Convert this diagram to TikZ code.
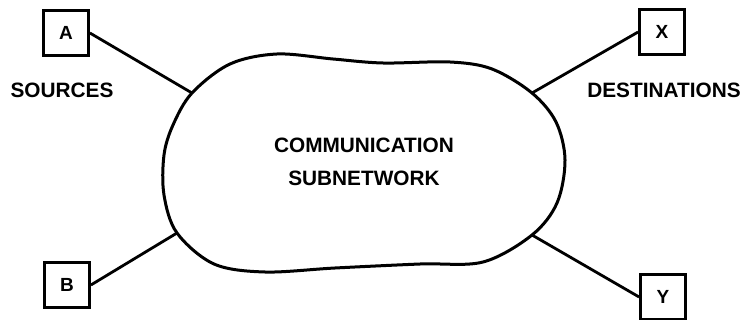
\documentclass[tikz,border=0pt]{standalone}
\usepackage{fontspec}
\setmainfont{Liberation Sans}
\begin{document}
\begin{tikzpicture}[x=1pt,y=-1pt,
  lbl/.style={font=\fontsize{20.8}{24}\selectfont\bfseries, inner sep=0pt},
  term/.style={draw, line width=2.8pt, minimum width=45pt, minimum height=45pt, inner sep=0pt, font=\fontsize{19}{22}\selectfont\bfseries},
  link/.style={line width=2.8pt},
  cloud/.style={line width=3pt}]
\useasboundingbox (0,0) rectangle (743,320);
\node[term] (A) at (66,33) {A};
\node[term] (X) at (662,32) {X};
\node[term] (B) at (67,285) {B};
\node[term] (Y) at (663,297) {Y};
\node[lbl] (src) at (62,90) {SOURCES};
\node[lbl] (dst) at (664,90) {DESTINATIONS};
\node[lbl, align=center] (net) at (364,162) {COMMUNICATION\\[9pt]SUBNETWORK};
\draw[cloud] plot[smooth cycle, tension=0.55] coordinates {
  (277,54) (333,59) (383,63) (450,62) (492,69) (532,93) (556,122) (565,160)
  (557,203) (532,235) (483,262) (420,264) (335,268) (265,272) (214,264)
  (177,233) (164,195) (164,155) (173,125) (192,93) (230,64)};
\coordinate (ja) at (192,93);
\coordinate (jx) at (532,93);
\coordinate (jb) at (177,233);
\coordinate (jy) at (532,235);
\draw[link] (A.east) -- (ja);
\draw[link] (X.west) -- (jx);
\draw[link] (B.east) -- (jb);
\draw[link] (Y.west) -- (jy);
\end{tikzpicture}
\end{document}
